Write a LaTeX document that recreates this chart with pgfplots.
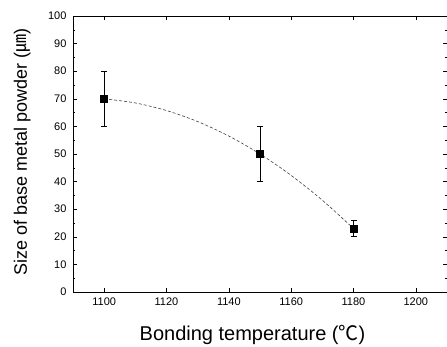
\documentclass[border=0pt]{standalone}
\usepackage{fontspec}
\setmainfont{Liberation Sans}
\newfontfamily\cjk{Noto Sans CJK KR}
\usepackage{pgfplots}
\pgfplotsset{compat=1.18}
\begin{document}
\begin{tikzpicture}[x=1pt,y=1pt]
\begin{axis}[
  at={(0,0)}, anchor=south west,
  scale only axis, width=374pt, height=276pt,
  xmin=1090, xmax=1210, ymin=0, ymax=100,
  xtick={1100,1120,...,1200}, ytick={0,10,...,100},
  minor x tick num=0, minor y tick num=1,
  tick align=inside, major tick length=4pt, minor tick length=2.5pt,
  axis line style={line width=0.8pt}, tick style={line width=0.6pt, black},
  /pgf/number format/assume math mode=true,
  /pgf/number format/set thousands separator={},
  tick label style={font=\fontsize{11}{13}\selectfont},
  xticklabel style={yshift=-2pt},
  yticklabel style={xshift=-3pt},
  xlabel={Bonding temperature ({\cjk ℃})},
  ylabel={Size of base metal powder ({\cjk ㎛})},
  xlabel style={font=\fontsize{20}{24}\selectfont, at={(axis description cs:0.48,-0.174)}, anchor=base},
  ylabel style={font=\fontsize{18}{22}\selectfont, at={(axis description cs:-0.123,0.507)}, anchor=base},
]
\addplot[densely dashed, line width=0.6pt, black!75, smooth] coordinates {
 (1100,70) (1110,68.5) (1120,65.75) (1130,61.75) (1140,56.5) (1150,50)
 (1160,42.25) (1170,33.25) (1180,23)};
\addplot[only marks, mark=square*, mark size=3.5pt, black,
  error bars/.cd, y dir=both, y explicit,
  error bar style={line width=0.7pt}, error mark options={rotate=90, mark size=3pt, line width=0.7pt}]
  coordinates {(1100,70) +- (0,10) (1150,50) +- (0,10) (1180,23) +- (0,3)};
\end{axis}
\pgfresetboundingbox
\path[use as bounding box] (-73,-54) rectangle (374,292);
\end{tikzpicture}
\end{document}
